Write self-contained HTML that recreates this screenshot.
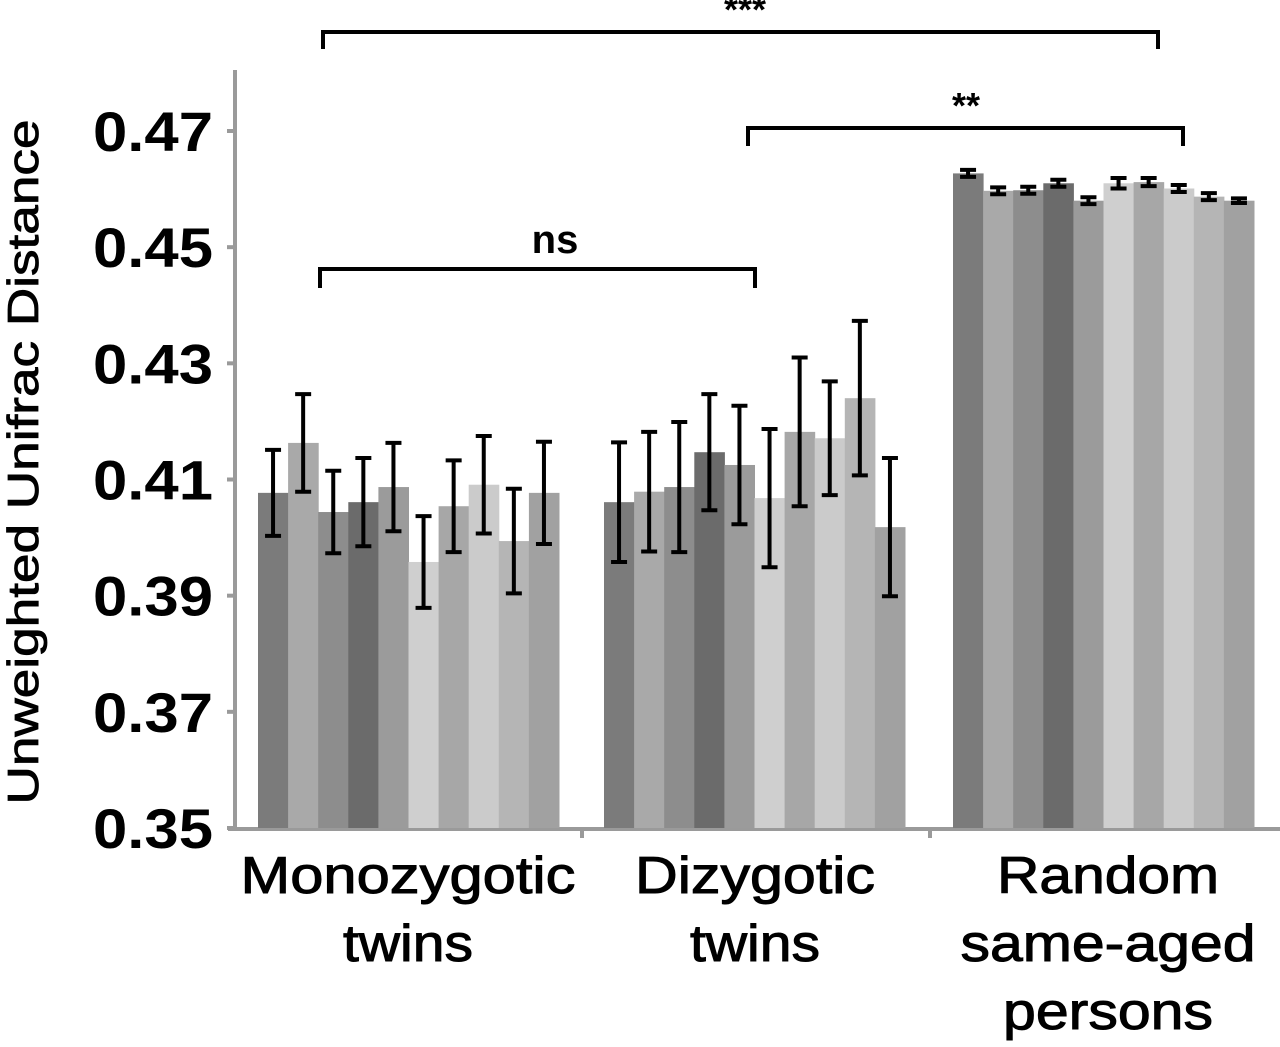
<!DOCTYPE html>
<html><head><meta charset="utf-8"><style>
html,body{margin:0;padding:0;background:#fff}
svg{display:block;font-family:"Liberation Sans",Arial,sans-serif}
</style></head><body>
<svg id="chart" width="1280" height="1047" viewBox="0 0 1280 1047" xmlns="http://www.w3.org/2000/svg">
<g id="axes"></g>
<g id="bars"></g>
<g id="labels"></g>
<text transform="translate(38,462) rotate(-90)" text-anchor="middle" font-size="44" fill="#000" stroke="#000" stroke-width="0.8" textLength="685" lengthAdjust="spacingAndGlyphs">Unweighted Unifrac Distance</text>
<g stroke="#000" stroke-width="4" fill="none">
<path d="M323,49 V32 H1158 V49"/>
<path d="M748,146 V128 H1183 V146"/>
<path d="M320,288 V269 H755 V288"/>
</g>
<text x="745" y="22" font-size="36" font-weight="bold" text-anchor="middle">***</text>
<text x="966" y="118" font-size="36" font-weight="bold" text-anchor="middle">**</text>
<text x="555" y="253" font-size="40" font-weight="bold" text-anchor="middle">ns</text>
<script>
const groups = ["Monozygotic twins", "Dizygotic twins", "Random same-aged persons"];
const mzValues = [0.4077, 0.4163, 0.4044, 0.4061, 0.4087, 0.3958, 0.4054, 0.4091, 0.3994, 0.4077];
const mzErrors = [0.0074, 0.0084, 0.0071, 0.0076, 0.0076, 0.0079, 0.0079, 0.0084, 0.0090, 0.0088];
const dzValues = [0.4061, 0.4079, 0.4087, 0.4147, 0.4125, 0.4068, 0.4182, 0.4171, 0.4240, 0.4018];
const dzErrors = [0.0103, 0.0103, 0.0112, 0.0100, 0.0102, 0.0119, 0.0128, 0.0098, 0.0133, 0.0119];
const rdValues = [0.4627, 0.4597, 0.4598, 0.4610, 0.4580, 0.4610, 0.4612, 0.4601, 0.4587, 0.4580];
const rdErrors = [0.0006, 0.0006, 0.0006, 0.0006, 0.0006, 0.0009, 0.0007, 0.0006, 0.0006, 0.0004];
const yTicks = [0.35, 0.37, 0.39, 0.41, 0.43, 0.45, 0.47];
const yTickLabels = ["0.35", "0.37", "0.39", "0.41", "0.43", "0.45", "0.47"];

const NS = "http://www.w3.org/2000/svg";
const colors = ["#7b7b7b","#a9a9a9","#8d8d8d","#6b6b6b","#9b9b9b","#cfcfcf","#a7a7a7","#cbcbcb","#b5b5b5","#a1a1a1"];
const y0 = 828, yTop = 131, vMin = 0.35, vMax = 0.47;
function yScale(v){ return y0 - (v - vMin) / (vMax - vMin) * (y0 - yTop); }
const groupStart = [258, 604, 953], groupWidth = 301;
function xScale(g, i, n){ return groupStart[g] + i * groupWidth / n; }
function mk(tag, attrs, parent){ const e = document.createElementNS(NS, tag); for (const k in attrs) e.setAttribute(k, attrs[k]); parent.appendChild(e); return e; }

const axes = document.getElementById('axes');
const bars = document.getElementById('bars');
const labels = document.getElementById('labels');

const yAxis = mk('line', {x1:235, y1:70, x2:235, y2:830, stroke:'#9a9a9a', 'stroke-width':4}, axes);


const xAxis = mk('line', {x1:228, y1:829, x2:1280, y2:829, stroke:'#9a9a9a', 'stroke-width':4}, axes);


[582, 930].forEach(x => {
  const t = mk('line', {x1:x, y1:829, x2:x, y2:838, stroke:'#9a9a9a', 'stroke-width':4}, axes);
  
  
});
yTicks.forEach((v, i) => {
  const y = yScale(v);
  const t = mk('line', {x1:227, y1:y, x2:235, y2:y, stroke:'#9a9a9a', 'stroke-width':4}, axes);
  
  
  const tx = mk('text', {x:93, y:y + 20, 'font-size':56, 'font-weight':'bold', textLength:120, lengthAdjust:'spacingAndGlyphs'}, labels);
  
  
  tx.textContent = yTickLabels[i];
});

const series = [[mzValues, mzErrors], [dzValues, dzErrors], [rdValues, rdErrors]];
series.forEach(([vals, errs], g) => {
  const n = vals.length, w = groupWidth / n;
  vals.forEach((v, i) => {
    const x = xScale(g, i, n), y = yScale(v);
    const r = mk('rect', {x:x, y:y, width:w + 0.5, height:y0 - y, fill:colors[i % colors.length]}, bars);
    
    
    const cx = x + w / 2, yt = yScale(v + errs[i]), yb = yScale(v - errs[i]);
    const eb = mk('path', {d:`M${cx-8},${yt} H${cx+8} M${cx},${yt} V${yb} M${cx-8},${yb} H${cx+8}`, stroke:'#000', 'stroke-width':4, fill:'none'}, bars);
    
    
  });
});

const catLines = [["Monozygotic","twins"],["Dizygotic","twins"],["Random","same-aged","persons"]];
const catWidths = [[335,130],[240,130],[222,295,210]];
const catCenters = [408, 755, 1108];
catLines.forEach((lines, g) => {
  lines.forEach((ln, j) => {
    const t = mk('text', {x:catCenters[g] - catWidths[g][j] / 2, y:893 + j * 68, 'font-size':52, stroke:'#000', 'stroke-width':1, textLength:catWidths[g][j], lengthAdjust:'spacingAndGlyphs'}, labels);
    
    
    t.textContent = ln;
  });
});
</script>
</svg>
</body></html>
